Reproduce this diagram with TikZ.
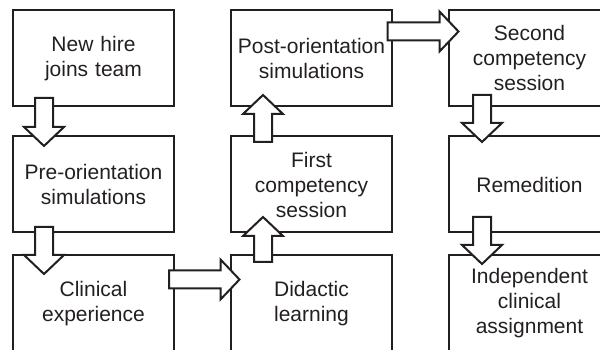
\documentclass[tikz,border=0pt]{standalone}
\usepackage{fontspec}
\setmainfont{Liberation Sans}
\usetikzlibrary{calc}
\definecolor{ink}{HTML}{231F20}
\tikzset{
  stage/.style={draw=ink, line width=2pt, minimum width=161pt, minimum height=96pt,
    inner sep=0pt, text width=158pt, align=center, text=ink,
    font=\fontsize{21}{25}\selectfont},
  barrow/.style={draw=ink, fill=white, line width=2pt, line join=miter}
}
\newcommand{\blockarr}[2]{%
  \coordinate (ba-h) at ($(#2)!19pt!(#1)$);
  \draw[barrow] ($(#1)!9pt!-90:(#2)$) -- ($(ba-h)!9pt!-90:(#2)$) -- ($(ba-h)!20pt!-90:(#2)$)
    -- (#2) -- ($(ba-h)!20pt!90:(#2)$) -- ($(ba-h)!9pt!90:(#2)$) -- ($(#1)!9pt!90:(#2)$) -- cycle;}
\begin{document}
\begin{tikzpicture}[x=1pt, y=1pt]
\useasboundingbox (0,0) rectangle (600,350);
\clip (0,0) rectangle (600,350);
% boxes
\node[stage] (nh)  at (93.5,291.5)  {New hire\\joins team};
\node[stage] (pre) at (93.5,165.5)  {Pre-orientation\\simulations};
\node[stage] (cli) at (93.5,46.5)   {Clinical\\experience};
\node[stage] (did) at (311.5,46.5)  {Didactic\\learning};
\node[stage] (fcs) at (311.5,165.5) {First\\competency\\session};
\node[stage] (pos) at (311.5,291.5) {Post-orientation\\simulations};
\node[stage] (scs) at (529.5,291.5) {Second\\competency\\session};
\node[stage] (rem) at (529.5,165.5) {Remedition};
\node[stage] (ind) at (529.5,46.5)  {Independent\\clinical\\assignment};
% arrow end points
\coordinate (a1t) at ($(nh.south)+(-49.5,9.5)$);
\coordinate (a1h) at ($(pre.north)+(-49.5,-10.5)$);
\coordinate (a2t) at ($(pre.south)+(-49.5,6.5)$);
\coordinate (a2h) at ($(cli.north)+(-49.5,-19.5)$);
\coordinate (a3t) at ($(cli.east)+(-6,24)$);
\coordinate (a3h) at ($(did.west)+(9.5,24)$);
\coordinate (a4t) at ($(did.north)+(-48.5,-7.5)$);
\coordinate (a4h) at ($(fcs.south)+(-48.5,16.5)$);
\coordinate (a5t) at ($(fcs.north)+(-48.5,-6.5)$);
\coordinate (a5h) at ($(pos.south)+(-48.5,12.5)$);
\coordinate (a6t) at ($(pos.east)+(-5.5,27)$);
\coordinate (a6h) at ($(scs.west)+(10.5,27)$);
\coordinate (a7t) at ($(scs.south)+(-47.5,12.5)$);
\coordinate (a7h) at ($(rem.north)+(-47.5,-6.5)$);
\coordinate (a8t) at ($(rem.south)+(-47.5,16.5)$);
\coordinate (a8h) at ($(ind.north)+(-47.5,-9.5)$);
% block arrows
\blockarr{a1t}{a1h}
\blockarr{a2t}{a2h}
\blockarr{a3t}{a3h}
\blockarr{a4t}{a4h}
\blockarr{a5t}{a5h}
\blockarr{a6t}{a6h}
\blockarr{a7t}{a7h}
\blockarr{a8t}{a8h}
\end{tikzpicture}
\end{document}
